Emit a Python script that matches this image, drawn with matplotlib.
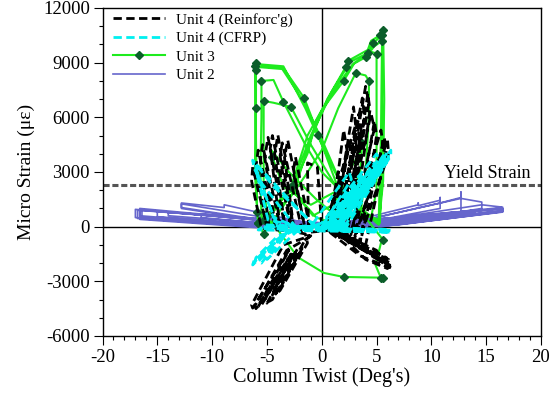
import matplotlib
matplotlib.use("Agg")
import matplotlib.pyplot as plt
from matplotlib.ticker import MultipleLocator

plt.rcParams['font.family'] = ['Liberation Serif', 'DejaVu Serif']
plt.rcParams['axes.unicode_minus'] = False

# ---------------- data ----------------
yield_strain = 2300

# Unit 2 (slate blue, solid)
x2 = [0.0, 0.5, 6.0, 6.0, 1.0, -0.5, -6.0, -6.0, -1.0,
      1.0, 8.8, 8.8, 8.8, 10.8, 10.8, 2.0,
      -1.0, -8.9, -8.9, -12.8, -12.8, -3.0,
      0.5, 10.0, 10.0, 2.0,
      -0.5, -11.0, -11.0, -2.0,
      2.0, 10.8, 10.8, 10.8, 12.7, 12.7, 12.7, 3.0,
      -1.0, -12.8, -12.8, -2.0,
      1.0, 12.0, 12.0, 3.0,
      -1.0, -14.0, -14.0, -2.0,
      2.0, 12.7, 14.6, 14.6, 4.0,
      -0.5, -15.0, -15.0, -3.0,
      1.0, 14.0, 14.0, 3.5,
      -2.0, -16.6, -16.6, -6.0,
      1.5, 15.5, 15.5, 4.0,
      -1.0, -16.6, -16.6, -4.0,
      3.0, 14.6, 16.5, 16.5, 5.4,
      -1.5, -16.4, -16.4, -5.0,
      2.0, 16.4, 16.4, 5.0,
      -2.0, -17.0, -17.0, -5.0,
      3.0, 16.5, 16.5, 6.0,
      -3.0, -16.8, -16.8, -6.0,
      2.0, 16.5, 16.5, 7.0, 0.0]
y2 = [100, 50, 500, 350, 0, 100, 600, 400, 0,
      50, 1200, 1300, 1150, 1450, 1000, 0,
      150, 1200, 1050, 1300, 1000, 100,
      100, 700, 550, 0,
      100, 700, 500, 0,
      100, 1300, 1600, 1300, 1600, 1900, 750, 0,
      100, 1250, 1050, 50,
      150, 800, 650, 0,
      250, 800, 600, 50,
      100, 1550, 1350, 1000, 0,
      150, 850, 550, 0,
      100, 900, 750, 0,
      200, 1000, 400, -50,
      150, 950, 800, 0,
      100, 950, 600, 0,
      150, 1200, 1070, 800, 0,
      200, 900, 500, -50,
      200, 1050, 900, 50,
      150, 950, 500, 0,
      100, 1000, 850, 50,
      300, 900, 450, 0,
      250, 1000, 820, 100, 100]

# Unit 3 (green line, dark green diamonds): (twist, strain, marker?)
unit3 = [
    (0.0, 0, 0), (1.2, 900, 0), (2.0, 1800, 1), (2.1, 2200, 0), (1.0, 1200, 0),
    (-0.8, 600, 0), (-2.0, 1500, 0), (-2.6, 2300, 1), (-2.4, 1800, 0), (-0.5, 500, 0),
    (0.5, 300, 0), (2.5, 1200, 0), (3.5, 3000, 0), (3.7, 4600, 1), (3.4, 4000, 0),
    (1.5, 2000, 0), (-1.0, 1200, 0), (-3.5, 2200, 0), (-4.5, 3800, 1), (-4.6, 4200, 0),
    (-3.0, 3000, 0), (-0.5, 1500, 0), (1.5, 500, 0),
    (3.5, 500, 0), (4.0, 3000, 0), (4.3, 6000, 0), (4.3, 8000, 1), (4.0, 8300, 0),
    (3.1, 8430, 1), (1.5, 6500, 0), (0.0, 4200, 0), (-1.5, 2800, 0), (-3.0, 1500, 0),
    (-5.0, 600, 1), (-5.3, 2500, 0), (-5.3, 5000, 0), (-5.3, 6900, 1), (-4.4, 6800, 0),
    (-2.8, 6570, 1), (-1.0, 4500, 0), (0.5, 3000, 0), (2.0, 1500, 0), (4.5, 500, 0),
    (5.0, 2000, 0), (5.0, 6000, 0), (5.0, 9500, 1), (4.5, 9600, 0), (3.0, 9000, 0),
    (2.0, 8000, 1), (0.0, 6400, 0), (-1.3, 5000, 0), (-2.8, 2200, 1), (-4.5, 800, 0),
    (-5.5, 500, 0), (-5.6, 3000, 1), (-5.5, 6000, 0), (-5.5, 8000, 1), (-4.4, 8050, 0),
    (-3.5, 6850, 1), (-1.5, 4500, 0), (0.0, 3000, 0), (2.0, 1800, 0), (4.0, 600, 0),
    (5.2, 400, 0),
    (5.4, 5000, 0), (5.5, 10200, 1), (4.8, 9900, 0), (4.0, 9300, 1), (2.8, 8900, 0),
    (0.8, 7200, 0), (-1.0, 5000, 0), (-2.6, 2400, 0), (-5.0, 600, 0), (-5.9, 800, 1),
    (-6.0, 5000, 0), (-6.1, 8800, 1), (-5.6, 8750, 0), (-3.6, 8650, 0), (-1.8, 7000, 0),
    (0.0, 4800, 0), (1.8, 2300, 0), (4.0, 800, 0), (5.3, 200, 0),
    (5.5, 3000, 0), (5.5, 8000, 0), (5.5, 10500, 1), (4.7, 10080, 1), (4.2, 9530, 1),
    (2.6, 9040, 0), (1.0, 7500, 0), (-0.5, 5800, 0), (-1.3, 4000, 0), (-2.8, 2000, 0),
    (-5.3, 370, 1), (-5.8, 200, 1), (-6.0, 2000, 0), (-6.0, 6500, 1), (-6.0, 8600, 1),
    (-5.7, 8800, 0), (-3.5, 8700, 0), (-1.6, 7060, 1), (-0.3, 5030, 1), (1.5, 2100, 0),
    (3.7, 900, 0), (5.2, 100, 0),
    (5.6, 2500, 0), (5.7, 7000, 0), (5.6, 10800, 1), (5.3, 10500, 1), (4.5, 10200, 0),
    (4.2, 9700, 0), (2.4, 9100, 1), (2.2, 8770, 1), (0.5, 7000, 0), (-1.0, 4800, 0),
    (-2.5, 2000, 0), (-5.3, -400, 1), (-5.8, 200, 1), (-6.1, 3000, 0), (-6.0, 7500, 0),
    (-6.0, 9000, 1), (-5.5, 8900, 0), (-3.5, 8800, 0), (-1.5, 6500, 0), (0.0, 4500, 0),
    (2.0, 2000, 0), (4.0, 500, 0), (5.6, -730, 1), (5.4, -900, 0), (4.9, -2100, 0),
    (5.4, -2820, 1), (5.6, -2800, 1), (2.0, -2760, 1), (0.2, -2540, 0), (-2.2, -1670, 0),
    (-4.0, -180, 0), (-5.0, 500, 0),
]

# Unit 4 (Reinforc'g) (black dashed)
x4r = [0.0, 0.8, 2.0, 2.3, 1.2, 1.0, 2.9, 3.1, 1.5, 1.3, 3.7, 3.9, 1.8, 1.6, 4.0, 4.3,
       2.2, 2.0, 4.5, 4.8, 2.6, 2.4, 5.4, 5.6, 3.0, 2.8, 6.0, 6.1, 3.4, 0.5, 1.5, 1.8,
       0.7, 0.3, 3.2, 3.4, 1.0,
       1.1, 2.5, 2.7, 1.4, 1.7, 3.4, 3.6, 2.0, 2.3, 4.2, 4.4, 2.8, 3.0, 4.8, 5.0, 3.5,
       3.5, 5.7, 5.9, 4.0,
       0.5, 3.5, 6.2, 6.3, 3.5, 1.0, 4.5, 5.8, 5.9, 2.5, 0.8, 5.0, 5.5, 5.6, 2.0, 0.6,
       1.5, 4.0, 6.0, 5.8, 3.0, 1.2, 4.8, 6.2, 6.1, 3.5, 0.8,
       -1.0, -2.4, -2.6, -1.5, -3.1, -3.4, -2.5, -4.0, -4.3, -3.3, -4.9, -5.2, -4.2,
       -5.8, -6.0, -5.0, -6.3, -6.4, -5.5, -2.0,
       -1.8, -3.6, -3.8, -2.8, -4.5, -4.7, -3.8, -5.4, -5.6, -4.8, -1.5,
       -1.3, -3.8, -4.0, -1.8, -4.5, -4.8, -2.5, -5.5, -5.8, -3.0, -6.3, -6.4, -3.5, -1.0,
       -1.5, -4.2, -4.4, -2.2, -5.0, -5.2, -2.8, -6.0, -6.1, -3.2, -1.2,
       -1.3, -0.4, 0.0]
y4r = [0, -300, 5300, 4200, -200, -400, 6570, 5500, -300, -500, 7060, 6000, -400, -600,
       7700, 6800, -500, -700, 6200, 5400, -600, -800, 5300, 4500, -700, -900, 4750, 4000,
       -800, -200, 3000, 2600, -100, 0, 5800, 5000, -300,
       -300, 4500, 3800, -400, -500, 6200, 5300, -600, -600, 7300, 6400, -700, -700,
       5800, 5000, -900, -900, 4900, 4200, -1000,
       -200, -1600, -2250, -2000, -1200, -300, -1500, -2100, -1700, -700, -100, -1300,
       -1900, -1600, -500, -100,
       -300, -1800, -2300, -1900, -900, -200, -1700, -2100, -1800, -1100, -200,
       -300, 3820, 3000, -200, 4750, 3800, -300, 5030, 4000, -200, 4900, 3800, -100,
       4200, 3300, 0, 3270, 2500, -100, -300,
       -200, 4600, 3900, -100, 5000, 4300, 0, 4500, 3700, 0, -400,
       -900, -3500, -3600, -1200, -4000, -4100, -1400, -4300, -4400, -1300, -4470, -4300,
       -1000, -500,
       -700, -3700, -3500, -1200, -4200, -4000, -1500, -4500, -4350, -1300, -600,
       3500, 3270, 0]

# Unit 4 (CFRP) (cyan dashed)
x4c = [0.0, 2.8, 2.9, 0.3, 3.4, 3.5, 0.6, 4.0, 4.1, 0.8, 4.5, 4.6, 1.0, 5.3, 5.4, 1.2,
       5.8, 5.9, 1.5, 6.3, 6.3, 2.0,
       0.2, 3.0, 3.1, 0.4, 3.8, 3.9, 0.7, 4.8, 4.9, 1.1, 5.6, 5.7, 1.4, 6.0, 6.1, 1.8,
       6.3, -5.8, -5.0, 6.2, 6.0, -4.5, -5.5, 6.1, 6.3, -5.3,
       -0.5, -4.4, -6.3, -6.2, -4.0, -2.0, -5.5, -6.0, -4.9, -2.0,
       -0.8, -5.0, -6.1, -5.9, -4.4, -1.5,
       -2.0, -4.0, -6.3, -6.2, -3.5, -5.5, -5.8, -3.0, -5.0, -2.0,
       -2.5, -4.5, -6.1, -6.0, -4.0, -1.5,
       0.0, 5.0, 5.2, 0.5, -1.0, 2.5, 2.7, 0.0]
y4c = [0, 2000, 1700, -100, 2500, 2200, -100, 2800, 2500, -150, 3300, 3000, -200, 3600,
       3300, -200, 3800, 3500, -250, 4200, 3900, -250,
       0, 2300, 2000, -100, 2900, 2600, -100, 3500, 3200, -200, 3900, 3600, -200, 4100,
       3800, -250,
       -300, -180, 100, -250, -150, 50, -100, -280, -200, 0,
       0, 2200, 3650, 3300, 0, -300, 2400, 3100, 370, 0,
       100, 2800, 3500, 3000, 500, -200,
       0, -700, -2100, -1900, -400, -2000, -1900, -200, -1800, -100,
       -100, -1000, -1900, -1700, -500, -100,
       200, 4000, 3700, 100, 0, 3000, 2600, 0]

# ---------------- figure ----------------
W, H = 557, 396
fig = plt.figure(figsize=(W / 100, H / 100), dpi=100)
ax = fig.add_axes([102.5 / W, (H - 336) / H, (541 - 102.5) / W, (336 - 8) / H])

ax.axhline(0, color='black', lw=1.0, zorder=1)
ax.axvline(0, color='black', lw=1.0, zorder=1)

ax.axhline(yield_strain, color='#555555', lw=2.2, dashes=(2.0, 0.9), zorder=2)
ax.text(19.0, yield_strain + 150, 'Yield Strain', fontsize=13, ha='right', va='bottom')

h2, = ax.plot(x2, y2, color='#6666CC', lw=1.2, zorder=3)
x3 = [p[0] for p in unit3]
y3 = [p[1] for p in unit3]
m3 = [i for i, p in enumerate(unit3) if p[2]]
h3, = ax.plot(x3, y3, color='#1EEB1E', lw=1.5, marker='D', markersize=4.5,
              markerfacecolor='#0B5E2A', markeredgecolor='#0B5E2A',
              markevery=m3, zorder=4)
h4r, = ax.plot(x4r, y4r, color='black', lw=2.0, dashes=(3.0, 1.6), zorder=5)
h4c, = ax.plot(x4c, y4c, color='#00F0F0', lw=2.0, dashes=(3.0, 1.6), zorder=6)

ax.set_xlim(-20, 20)
ax.set_ylim(-6000, 12000)
ax.xaxis.set_major_locator(MultipleLocator(5))
ax.xaxis.set_minor_locator(MultipleLocator(1))
ax.yaxis.set_major_locator(MultipleLocator(3000))
ax.yaxis.set_minor_locator(MultipleLocator(1000))
ax.tick_params(which='major', direction='out', length=6.5, width=0.8, labelsize=13.5, pad=2.5)
ax.tick_params(which='minor', direction='out', length=3.2, width=0.8)
for s in ax.spines.values():
    s.set_linewidth(1.0)

ax.set_xlabel("Column Twist (Deg's)", fontsize=14.5, labelpad=1)
ax.set_ylabel('Micro Strain (\u03bc\u03b5)', fontsize=14, labelpad=6)

leg = ax.legend([h4r, h4c, h3, h2],
                ["Unit 4 (Reinforc'g)", 'Unit 4 (CFRP)', 'Unit 3', 'Unit 2'],
                loc='upper left', bbox_to_anchor=(0.025, 0.985), frameon=False,
                fontsize=11, handlelength=3.4, handletextpad=0.7, labelspacing=0.3,
                borderpad=0, borderaxespad=0)
leg.legend_handles[2].set_markevery([1])

fig.savefig('out.png', dpi=100)
